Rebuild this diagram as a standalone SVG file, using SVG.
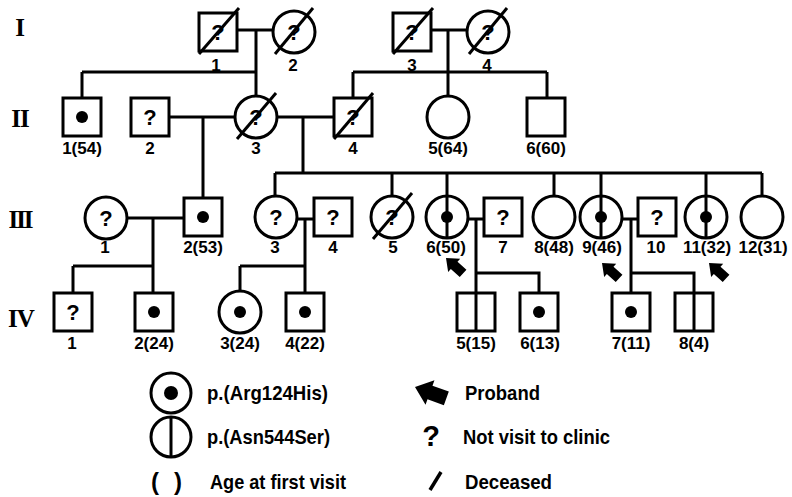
<svg xmlns="http://www.w3.org/2000/svg" xmlns:xlink="http://www.w3.org/1999/xlink" width="792" height="497" viewBox="0 0 792 497">
  <style>
    .s { fill: #fff; stroke: #000; stroke-width: 3; }
    .l { fill: none; stroke: #000; stroke-width: 3; }
    .d { fill: none; stroke: #000; stroke-width: 3; }
    .dot { fill: #000; }
    .lab { font-family: "Liberation Sans", Arial, sans-serif; font-weight: bold; font-size: 17px; text-anchor: middle; fill: #000; }
    .q { font-family: "Liberation Sans", Arial, sans-serif; font-weight: bold; font-size: 22px; text-anchor: middle; fill: #000; }
    .gen { font-family: "Liberation Serif", "Times New Roman", serif; font-weight: bold; font-size: 25px; text-anchor: middle; fill: #000; }
    .leg { font-family: "Liberation Sans", Arial, sans-serif; font-weight: bold; font-size: 20.5px; fill: #000; }
  </style>
  <defs>
    <path id="arrow" d="M0,0 L11,-9 L11,-5 L23,-5 L23,5 L11,5 L11,9 Z" fill="#000"/>
  </defs>
  <rect width="792" height="497" fill="#fff"/>

  <!-- generation numerals -->
  <g id="generations">
    <text class="gen" x="20" y="36">I</text>
    <text class="gen" x="20" y="127" letter-spacing="-1">II</text>
    <text class="gen" x="20" y="228" letter-spacing="-2">III</text>
    <text class="gen" x="21" y="327" letter-spacing="-1">IV</text>
  </g>

  <!-- lines of descent and marriage -->
  <g id="connectors" class="l">
    <path d="M237,30 H273 M256,30 V96 M82,72 H256 M82,72 V98"/>
    <path d="M431,30 H467 M448,30 V96 M353,72 H547 M353,72 V98 M547,72 V98"/>
    <path d="M169,117 H235 M203,117 V198 M277,117 H334 M303,117 V173"/>
    <path d="M275,173 H762 M275,173 V196 M392,173 V196 M447,173 V196 M554,173 V196 M601,173 V196 M706,173 V196 M762,173 V196"/>
    <path d="M127,218 H184 M153,218 V266 M73,266 H153 M73,266 V293 M153,266 V293"/>
    <path d="M297,219 H314 M305,219 V266 M240,266 H305 M240,266 V291 M305,266 V293"/>
    <path d="M468,219 H484 M476,219 V293 M476,273 H539 V293"/>
    <path d="M622,219 H638 M631,219 V293 M631,273 H694 V293"/>
  </g>

  <!-- Generation I -->
  <g id="I-1">
    <rect class="s" x="199" y="13" width="38" height="38"/>
    <text class="q" x="218" y="40">?</text>
    <line class="d" x1="199" y1="54" x2="239" y2="8"/>
    <text class="lab" x="216" y="71">1</text>
  </g>
  <g id="I-2">
    <circle class="s" cx="294" cy="32" r="21"/>
    <text class="q" x="294" y="40">?</text>
    <line class="d" x1="275" y1="54" x2="313" y2="8"/>
    <text class="lab" x="293" y="71">2</text>
  </g>
  <g id="I-3">
    <rect class="s" x="393" y="13" width="38" height="38"/>
    <text class="q" x="412" y="40">?</text>
    <line class="d" x1="393" y1="54" x2="433" y2="8"/>
    <text class="lab" x="412" y="71">3</text>
  </g>
  <g id="I-4">
    <circle class="s" cx="488" cy="32" r="21"/>
    <text class="q" x="488" y="40">?</text>
    <line class="d" x1="469" y1="54" x2="507" y2="8"/>
    <text class="lab" x="487" y="71">4</text>
  </g>

  <!-- Generation II -->
  <g id="II-1">
    <rect class="s" x="63" y="98" width="38" height="38"/>
    <circle class="dot" cx="82" cy="117" r="6"/>
    <text class="lab" x="82" y="154">1(54)</text>
  </g>
  <g id="II-2">
    <rect class="s" x="131" y="98" width="38" height="38"/>
    <text class="q" x="150" y="125">?</text>
    <text class="lab" x="150" y="154">2</text>
  </g>
  <g id="II-3">
    <circle class="s" cx="256" cy="117" r="21"/>
    <text class="q" x="256" y="125">?</text>
    <line class="d" x1="237" y1="139" x2="276" y2="93"/>
    <text class="lab" x="256" y="154">3</text>
  </g>
  <g id="II-4">
    <rect class="s" x="334" y="98" width="38" height="38"/>
    <text class="q" x="353" y="125">?</text>
    <line class="d" x1="334" y1="139" x2="373" y2="93"/>
    <text class="lab" x="353" y="154">4</text>
  </g>
  <g id="II-5">
    <circle class="s" cx="448" cy="117" r="21"/>
    <text class="lab" x="448" y="154">5(64)</text>
  </g>
  <g id="II-6">
    <rect class="s" x="527" y="98" width="38" height="38"/>
    <text class="lab" x="546" y="154">6(60)</text>
  </g>

  <!-- Generation III -->
  <g id="III-1">
    <circle class="s" cx="106" cy="218" r="21"/>
    <text class="q" x="106" y="226">?</text>
    <text class="lab" x="105" y="253">1</text>
  </g>
  <g id="III-2">
    <rect class="s" x="184" y="198" width="38" height="38"/>
    <circle class="dot" cx="203" cy="217" r="6"/>
    <text class="lab" x="203" y="253">2(53)</text>
  </g>
  <g id="III-3">
    <circle class="s" cx="276" cy="217" r="21"/>
    <text class="q" x="276" y="225">?</text>
    <text class="lab" x="275" y="253">3</text>
  </g>
  <g id="III-4">
    <rect class="s" x="314" y="198" width="38" height="38"/>
    <text class="q" x="333" y="225">?</text>
    <text class="lab" x="333" y="253">4</text>
  </g>
  <g id="III-5">
    <circle class="s" cx="392" cy="217" r="21"/>
    <text class="q" x="392" y="225">?</text>
    <line class="d" x1="373" y1="239" x2="412" y2="193"/>
    <text class="lab" x="393" y="253">5</text>
  </g>
  <g id="III-6">
    <circle class="s" cx="447" cy="217" r="21"/>
    <line class="l" x1="447" y1="196" x2="447" y2="238"/>
    <circle class="dot" cx="447" cy="217" r="6"/>
    <text class="lab" x="446" y="253">6(50)</text>
    <use xlink:href="#arrow" transform="translate(446,258) rotate(42)"/>
  </g>
  <g id="III-7">
    <rect class="s" x="484" y="198" width="38" height="38"/>
    <text class="q" x="503" y="225">?</text>
    <text class="lab" x="503" y="253">7</text>
  </g>
  <g id="III-8">
    <circle class="s" cx="554" cy="217" r="21"/>
    <text class="lab" x="554" y="253">8(48)</text>
  </g>
  <g id="III-9">
    <circle class="s" cx="601" cy="217" r="21"/>
    <line class="l" x1="601" y1="196" x2="601" y2="238"/>
    <circle class="dot" cx="601" cy="217" r="6"/>
    <text class="lab" x="602" y="253">9(46)</text>
    <use xlink:href="#arrow" transform="translate(602,263) rotate(42)"/>
  </g>
  <g id="III-10">
    <rect class="s" x="638" y="198" width="38" height="38"/>
    <text class="q" x="657" y="225">?</text>
    <text class="lab" x="656" y="253">10</text>
  </g>
  <g id="III-11">
    <circle class="s" cx="706" cy="217" r="21"/>
    <line class="l" x1="706" y1="196" x2="706" y2="238"/>
    <circle class="dot" cx="706" cy="217" r="6"/>
    <text class="lab" x="707" y="253">11(32)</text>
    <use xlink:href="#arrow" transform="translate(709,263) rotate(42)"/>
  </g>
  <g id="III-12">
    <circle class="s" cx="762" cy="217" r="21"/>
    <text class="lab" x="763" y="253">12(31)</text>
  </g>

  <!-- Generation IV -->
  <g id="IV-1">
    <rect class="s" x="54" y="293" width="38" height="38"/>
    <text class="q" x="73" y="320">?</text>
    <text class="lab" x="72" y="349">1</text>
  </g>
  <g id="IV-2">
    <rect class="s" x="135" y="293" width="38" height="38"/>
    <circle class="dot" cx="154" cy="312" r="6"/>
    <text class="lab" x="154" y="349">2(24)</text>
  </g>
  <g id="IV-3">
    <circle class="s" cx="240" cy="312" r="21"/>
    <circle class="dot" cx="240" cy="312" r="6"/>
    <text class="lab" x="240" y="349">3(24)</text>
  </g>
  <g id="IV-4">
    <rect class="s" x="286" y="293" width="38" height="38"/>
    <circle class="dot" cx="305" cy="312" r="6"/>
    <text class="lab" x="305" y="349">4(22)</text>
  </g>
  <g id="IV-5">
    <rect class="s" x="457" y="293" width="38" height="38"/>
    <line class="l" x1="476" y1="293" x2="476" y2="331"/>
    <text class="lab" x="476" y="349">5(15)</text>
  </g>
  <g id="IV-6">
    <rect class="s" x="520" y="293" width="38" height="38"/>
    <circle class="dot" cx="539" cy="312" r="6"/>
    <text class="lab" x="540" y="349">6(13)</text>
  </g>
  <g id="IV-7">
    <rect class="s" x="612" y="293" width="38" height="38"/>
    <circle class="dot" cx="631" cy="312" r="6"/>
    <text class="lab" x="631" y="349">7(11)</text>
  </g>
  <g id="IV-8">
    <rect class="s" x="675" y="293" width="38" height="38"/>
    <line class="l" x1="694" y1="293" x2="694" y2="331"/>
    <text class="lab" x="694" y="349">8(4)</text>
  </g>

  <!-- key -->
  <g id="legend">
    <circle class="s" cx="171" cy="393" r="20"/>
    <circle class="dot" cx="171" cy="393" r="7"/>
    <text class="leg" x="207" y="400" textLength="121" lengthAdjust="spacingAndGlyphs">p.(Arg124His)</text>

    <circle class="s" cx="171" cy="437" r="20"/>
    <line class="l" x1="171" y1="417" x2="171" y2="457"/>
    <text class="leg" x="207" y="444" textLength="123" lengthAdjust="spacingAndGlyphs">p.(Asn544Ser)</text>

    <text x="151" y="490" font-family="Liberation Sans, Arial, sans-serif" font-weight="bold" font-size="24" textLength="31">( )</text>
    <text class="leg" x="210" y="489" textLength="136" lengthAdjust="spacingAndGlyphs">Age at first visit</text>

    <use xlink:href="#arrow" transform="translate(415,387) rotate(20) scale(1.45)"/>
    <text class="leg" x="465" y="400" textLength="75" lengthAdjust="spacingAndGlyphs">Proband</text>

    <text x="431" y="446" font-family="Liberation Sans, Arial, sans-serif" font-weight="bold" font-size="29" text-anchor="middle">?</text>
    <text class="leg" x="463" y="444" textLength="147" lengthAdjust="spacingAndGlyphs">Not visit to clinic</text>

    <line x1="430" y1="490" x2="441" y2="472" stroke="#000" stroke-width="3.5"/>
    <text class="leg" x="465" y="489" textLength="87" lengthAdjust="spacingAndGlyphs">Deceased</text>
  </g>
</svg>
